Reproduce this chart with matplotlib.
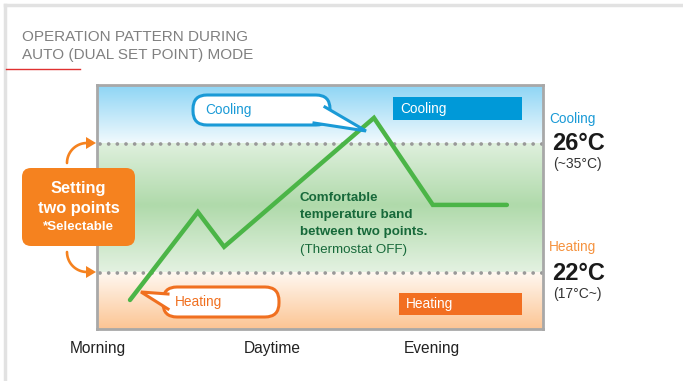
import numpy as np
import matplotlib
matplotlib.use("Agg")
import matplotlib.pyplot as plt
from matplotlib.patches import FancyBboxPatch, Polygon, Rectangle
from matplotlib.colors import to_rgb

plt.rcParams['font.family'] = ['Liberation Sans', 'DejaVu Sans']

# data: time of day (0..10) vs room temperature (degC)
time_pts = [0.74, 2.26, 2.85, 6.21, 7.53, 9.19]
temp_pts = [21.16, 23.89, 22.81, 26.81, 24.11, 24.11]
set_cool = 26
set_heat = 22
period_labels = ['Morning', 'Daytime', 'Evening']
period_pos = [0.02, 3.92, 7.51]
y_lo, y_hi = 20.26, 27.83

W, H = 683, 381
fig = plt.figure(figsize=(W / 100, H / 100), dpi=100)

# main plot box
ax = fig.add_axes([97 / W, (H - 329) / H, 446 / W, 244 / H])

# background gradient (blue above cooling point, green band, orange below heating)
def grad(c1, c2, n=60):
    a, b = np.array(to_rgb(c1)), np.array(to_rgb(c2))
    t = np.linspace(0, 1, n)[:, None]
    return a * (1 - t) + b * t

def band(y0, y1, rows):
    ax.imshow(rows[:, None, :], extent=[0, 10, y0, y1], origin='lower',
              aspect='auto', zorder=0, interpolation='bilinear')

band(set_cool, y_hi, grad('#f2fafd', '#8ed5f5'))
band(24.1, set_cool, grad('#b0daab', '#dff0dd'))
band(set_heat, 24.1, grad('#e4f2e2', '#b0daab'))
band(y_lo, set_heat, grad('#fcc594', '#fff8f1'))
ax.set_xlim(0, 10)
ax.set_ylim(y_lo, y_hi)

for yv in (set_cool, set_heat):
    ax.plot([0.07, 10.1], [yv, yv], color='#999999', lw=2.7,
            dashes=(0.01, 2.3), dash_capstyle='round', clip_on=False, zorder=2)

ax.plot(time_pts, temp_pts, color='#4bb547', lw=3.2, solid_capstyle='round',
        solid_joinstyle='miter', zorder=3)

ax.set_xticks(period_pos)
ax.set_xticklabels(period_labels, fontsize=11.2, color='#222222')
ax.tick_params(axis='x', length=0, pad=9)
ax.set_yticks([])
for s in ax.spines.values():
    s.set_color('#a8a8a8')
    s.set_linewidth(2)

# decoration layer in pixel coordinates
d = fig.add_axes([0, 0, 1, 1], zorder=5)
d.set_xlim(0, W)
d.set_ylim(H, 0)
d.axis('off')
d.patch.set_alpha(0)

d.plot([5, W], [5, 5], color='#e2e2e2', lw=2.5)
d.plot([5, 5], [5, H], color='#e2e2e2', lw=2.5)
d.plot([6, 80], [69, 69], color='#e03131', lw=1)

d.text(22, 37, 'OPERATION PATTERN DURING', fontsize=11, color='#808080', va='center')
d.text(22, 55, 'AUTO (DUAL SET POINT) MODE', fontsize=11, color='#808080', va='center')

# left "setting two points" box
org = '#f5821f'
d.add_patch(FancyBboxPatch((22, 168), 113, 78, boxstyle='round,pad=0,rounding_size=9',
                           fc=org, ec='none'))
d.text(78.5, 189, 'Setting', color='white', fontsize=11.8, fontweight='bold', ha='center', va='center')
d.text(78.5, 208, 'two points', color='white', fontsize=11.8, fontweight='bold', ha='center', va='center')
d.text(78.5, 227, '*Selectable', color='white', fontsize=9.6, fontweight='bold', ha='center', va='center')

# curved arrows from the box to the two set-point lines
ang = np.linspace(np.pi, np.pi / 2, 30)
r = 20
d.plot(87 + r * np.cos(ang), 163 - r * np.sin(ang), color=org, lw=1.9, solid_capstyle='round')
d.add_patch(Polygon([(86, 137), (96, 143), (86, 149)], closed=True, fc=org, ec='none'))
d.plot(87 + r * np.cos(ang), 252 + r * np.sin(ang), color=org, lw=1.9, solid_capstyle='round')
d.add_patch(Polygon([(86, 266), (96, 272), (86, 278)], closed=True, fc=org, ec='none'))

# callouts
def callout(x, y, w, h, base1, base2, tip, col, label):
    d.add_patch(FancyBboxPatch((x, y), w, h, boxstyle='round,pad=0,rounding_size=14',
                               fc='white', ec=col, lw=2.2))
    d.add_patch(Polygon([base1, tip, base2], closed=True, fc='white', ec='none', zorder=3))
    d.plot([base1[0], tip[0], base2[0]], [base1[1], tip[1], base2[1]], color=col, lw=2.2,
           solid_joinstyle='miter', zorder=4)
    d.text(x + 12, y + h / 2, label, color=col, fontsize=9.8, va='center')

callout(193, 95, 137, 30, (325, 107), (314, 123), (366, 131), '#1a9ad6', 'Cooling')
callout(163, 287, 116, 30, (168, 294), (168, 309), (141, 292), '#f07020', 'Heating')

# mode boxes
d.add_patch(Rectangle((393, 97), 129, 23, fc='#0099d8', ec='none'))
d.text(400, 108.5, 'Cooling', color='white', fontsize=9.8, va='center')
d.add_patch(Rectangle((399, 293), 123, 22, fc='#f26f21', ec='none'))
d.text(406, 304, 'Heating', color='white', fontsize=9.8, va='center')

# comfort band text
g = '#17693a'
d.text(300, 198, 'Comfortable', color=g, fontsize=9.6, fontweight='bold', va='center')
d.text(300, 215, 'temperature band', color=g, fontsize=9.6, fontweight='bold', va='center')
d.text(300, 232, 'between two points.', color=g, fontsize=9.6, fontweight='bold', va='center')
d.text(300, 250, '(Thermostat OFF)', color=g, fontsize=9.6, va='center')

# right side set point labels
d.text(549, 119, 'Cooling', color='#1a9ad6', fontsize=9.8, va='center')
d.text(552, 144, '26°C', color='#1a1a1a', fontsize=17, fontweight='bold', va='center')
d.text(553, 164, '(~35°C)', color='#333333', fontsize=10, va='center')
d.text(549, 247, 'Heating', color='#f5923e', fontsize=9.8, va='center')
d.text(552, 273, '22°C', color='#1a1a1a', fontsize=17, fontweight='bold', va='center')
d.text(553, 294, '(17°C~)', color='#333333', fontsize=10, va='center')

fig.savefig('out.png', dpi=100)
